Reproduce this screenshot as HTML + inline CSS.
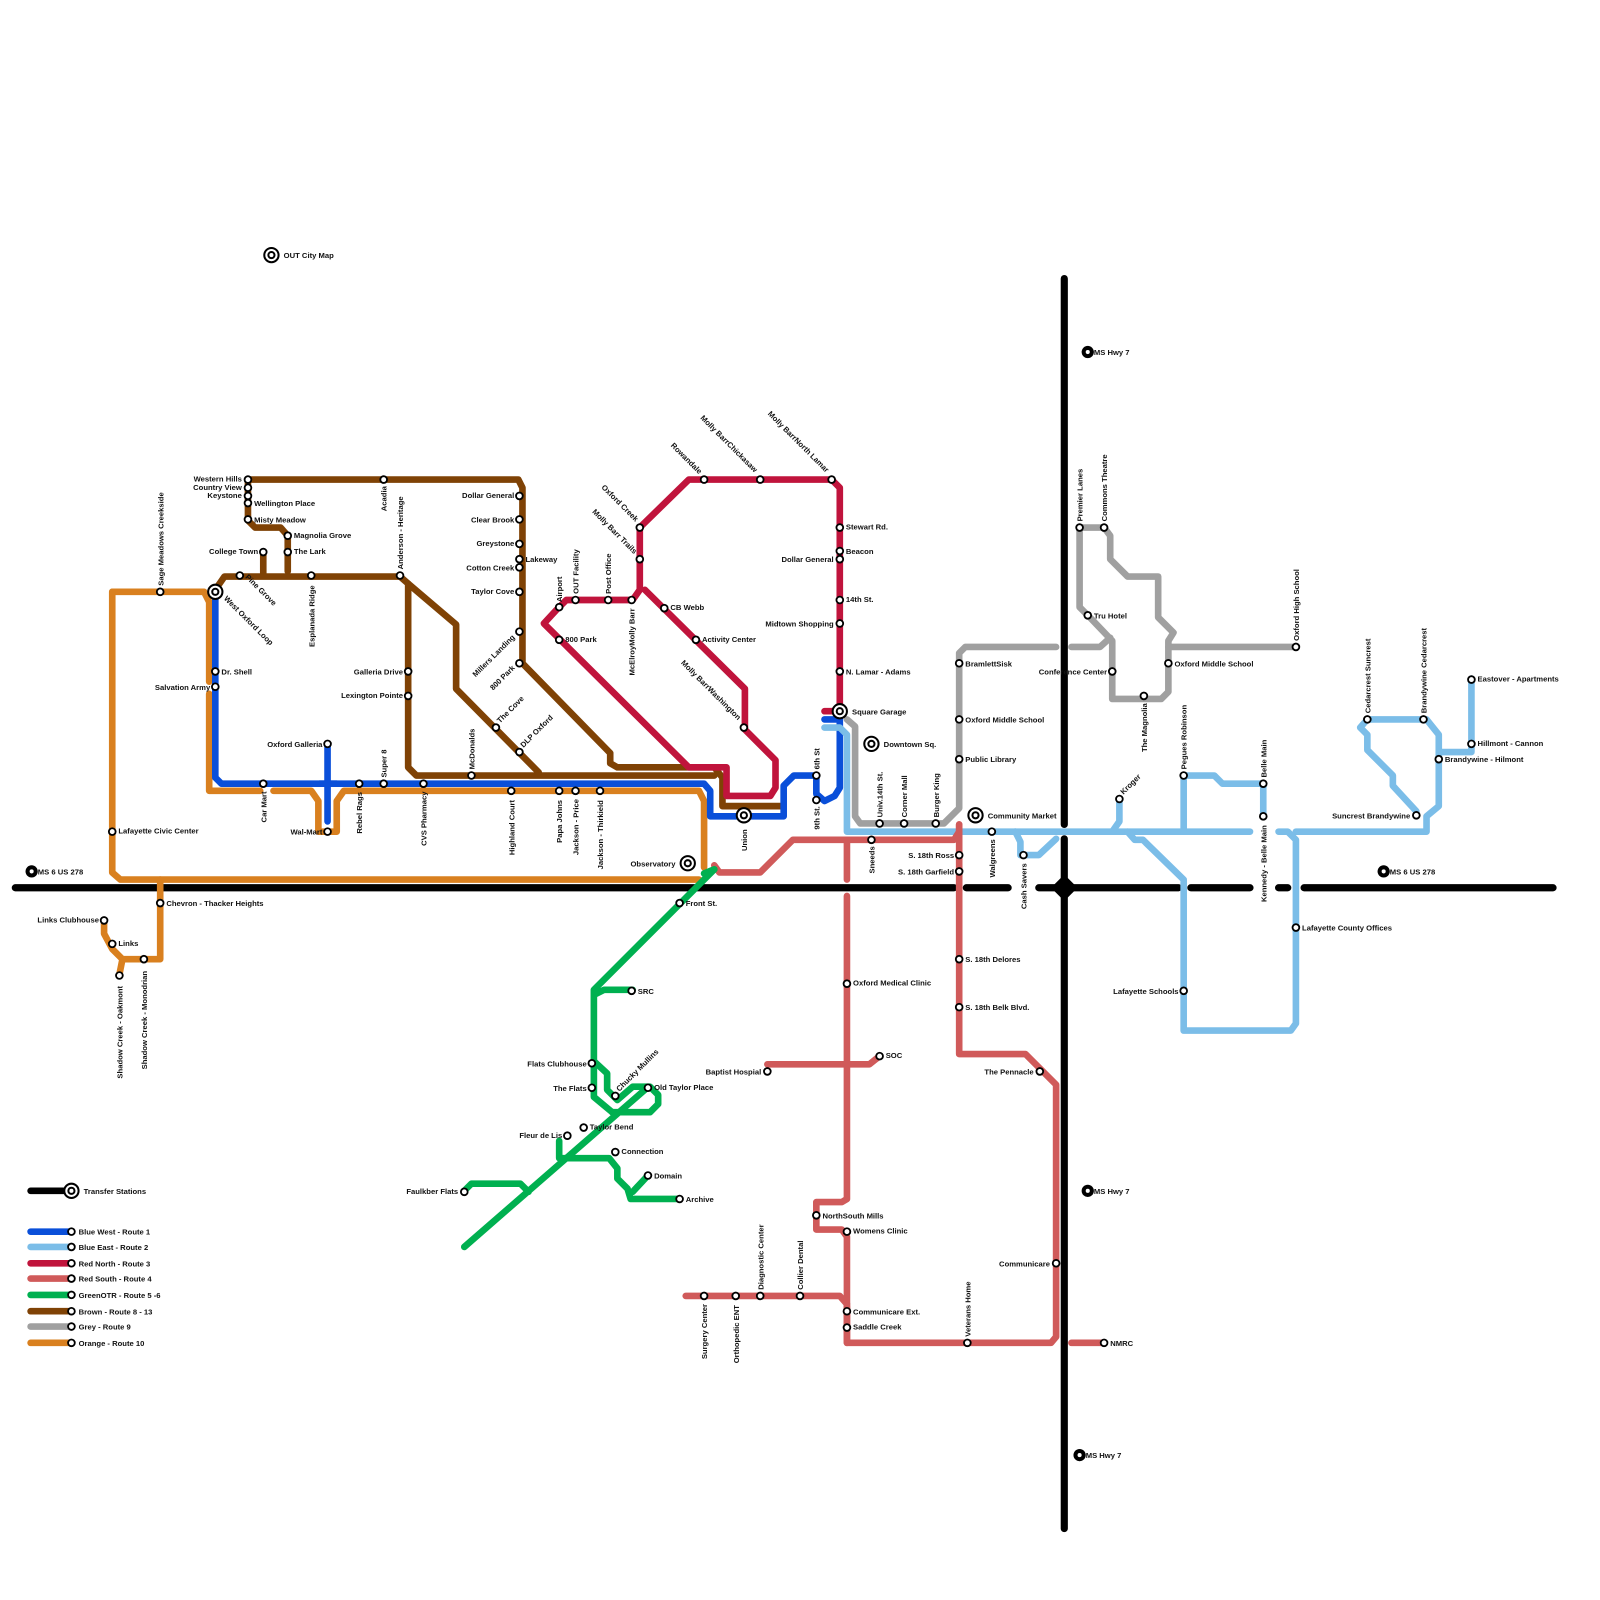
<!DOCTYPE html>
<html><head><meta charset="utf-8"><style>
html,body{margin:0;padding:0;background:#fff;}
svg{display:block;}
text{font-family:"Liberation Sans",Arial,sans-serif;font-size:7.5px;font-weight:bold;fill:#111;}
.l{fill:none;stroke-width:6.5;stroke-linejoin:round;stroke-linecap:round;}
.s{fill:#fff;stroke:#000;stroke-width:1.8;}
</style></head><body>
<svg width="1600" height="1600" viewBox="0 0 1568 1568" xmlns="http://www.w3.org/2000/svg">
<rect width="1568" height="1568" fill="#fff"/>
<g class="l" stroke="#000" style="stroke-width:7">
<path d="M15 870H935M947 870H988M1018 870H1155M1167 870H1225M1253 870H1262M1278 870H1522"/>
<path d="M1043 273V808M1043 822V1498"/>
</g>
<path d="M1043 857L1056 870L1043 883L1030 870Z" fill="#000"/>

<g class="l" stroke="#d9801f">
<path d="M110 580H200L205 590V668M205 680V775H255M268 775H305L312 785V815H330V785L337 775H685L690 785V850"/>
<path d="M110 580V855L118 862H685"/>
<path d="M157 862V940H142M102 902V915L110 930L120 940H142M120 940L117 955"/>
</g>
<g class="l" stroke="#7f4205">
<path d="M243 470H508L512 478V650L598 738V748L605 752H700L708 762V790H765"/>
<path d="M243 470V510L250 517H275L282 525V560M258 541V562"/>
<path d="M211 578L220 565H392L400 572V752L408 760H700"/>
<path d="M400 572L447 612V675L528 757"/>
</g>
<g class="l" stroke="#0a4fd9">
<path d="M211 580V762L217 768H690L696 775V800H768V770L778 760H800V778L808 785L818 780L823 772V705H808"/>
<path d="M321 729V805M313 768H330"/>
</g>
<g class="l" stroke="#c0143c">
<path d="M808 697H823V478L815 470H675L627 517V578"/>
<path d="M627 578L620 588H555L545 598L533 611L675 752H712V780H755L760 772V745L730 715V675L632 578"/>
</g>
<g class="l" stroke="#a0a0a0">
<path d="M830 705L838 712V800L843 807H925L940 792V640L946 634H1035M1050 634H1078L1088 625"/>
<path d="M1058 517H1082L1088 525V548L1105 565H1135V605L1150 620L1145 628V678L1138 685H1090V628L1068 605L1058 595Z"/>
<path d="M1145 634H1270"/>
</g>
<g class="l" stroke="#7bbde8">
<path d="M808 713H823L830 720V815H1225"/>
<path d="M995 815L1000 825V838H1018L1035 822"/>
<path d="M1097 783V805L1090 815M1160 760V815M1160 760H1190L1198 768H1238V800"/>
<path d="M1105 815L1112 823H1120L1160 862V1010H1265L1270 1003V823L1262 815H1253M1270 815H1398V800L1410 790V720L1398 705H1340L1333 713L1340 720V735L1365 760V770L1388 795"/>
<path d="M1410 737H1442V665"/>
</g>
<g class="l" stroke="#d05a5a">
<path d="M700 848L705 855H745L777 823H935L940 815V808"/>
<path d="M940 808V1033H1005L1035 1063V1310L1030 1316H830V1280M1050 1316H1082"/>
<path d="M830 823V862M830 878V1175L825 1178H800V1205H825L830 1212V1316"/>
<path d="M752 1043H852L862 1035M672 1270H823L830 1278"/>
</g>
<g class="l" stroke="#00b050">
<path d="M700 852L582 970V1075L600 1090M582 975L592 970H620"/>
<path d="M582 1040L595 1052V1068L605 1078M605 1078L620 1065H637L645 1073V1082L637 1090H600"/>
<path d="M632 1068L455 1222M455 1167L462 1160H510L518 1168"/>
<path d="M548 1118V1135H597L605 1145V1155L615 1165L618 1175H666M635 1152L620 1168"/>
<path d="M690 856L700 852"/>
</g>
<g class="l">
<path d="M30 1167H70" stroke="#000"/>
<path d="M30 1207H70" stroke="#0a4fd9"/><path d="M30 1222H70" stroke="#7bbde8"/>
<path d="M30 1238H70" stroke="#c0143c"/><path d="M30 1253H70" stroke="#d05a5a"/>
<path d="M30 1269H70" stroke="#00b050"/><path d="M30 1285H70" stroke="#7f4205"/>
<path d="M30 1300H70" stroke="#a0a0a0"/><path d="M30 1316H70" stroke="#d9801f"/>
</g>
<g class="s">
<circle cx="70" cy="1207" r="3.3"/><circle cx="70" cy="1222" r="3.3"/><circle cx="70" cy="1238" r="3.3"/><circle cx="70" cy="1253" r="3.3"/><circle cx="70" cy="1269" r="3.3"/><circle cx="70" cy="1285" r="3.3"/><circle cx="70" cy="1300" r="3.3"/><circle cx="70" cy="1316" r="3.3"/>
</g>
<text x="77" y="1210">Blue West - Route 1</text><text x="77" y="1225">Blue East - Route 2</text><text x="77" y="1241">Red North - Route 3</text><text x="77" y="1256">Red South - Route 4</text><text x="77" y="1272">GreenOTR - Route 5 -6</text><text x="77" y="1288">Brown - Route 8 - 13</text><text x="77" y="1303">Grey - Route 9</text><text x="77" y="1319">Orange - Route 10</text>

<g fill="#fff" stroke="#000">
<circle cx="70" cy="1167" r="7" stroke-width="2"/><circle cx="70" cy="1167" r="3" stroke-width="2"/>
<circle cx="266" cy="250" r="7" stroke-width="2"/><circle cx="266" cy="250" r="3" stroke-width="2"/>
<circle cx="211" cy="580" r="7" stroke-width="2"/><circle cx="211" cy="580" r="3" stroke-width="2"/>
<circle cx="674" cy="846" r="7" stroke-width="2"/><circle cx="674" cy="846" r="3" stroke-width="2"/>
<circle cx="729" cy="799" r="7" stroke-width="2"/><circle cx="729" cy="799" r="3" stroke-width="2"/>
<circle cx="823" cy="697" r="7" stroke-width="2"/><circle cx="823" cy="697" r="3" stroke-width="2"/>
<circle cx="854" cy="729" r="7" stroke-width="2"/><circle cx="854" cy="729" r="3" stroke-width="2"/>
<circle cx="956" cy="799" r="7" stroke-width="2"/><circle cx="956" cy="799" r="3" stroke-width="2"/>
</g>
<g fill="#000"><circle cx="31" cy="854" r="6"/><circle cx="1066" cy="345" r="6"/><circle cx="1066" cy="1167" r="6"/><circle cx="1058" cy="1426" r="6"/><circle cx="1356" cy="854" r="6"/></g>
<g fill="#fff"><circle cx="31" cy="854" r="2"/><circle cx="1066" cy="345" r="2"/><circle cx="1066" cy="1167" r="2"/><circle cx="1058" cy="1426" r="2"/><circle cx="1356" cy="854" r="2"/></g>
<text x="37" y="857">MS 6 US 278</text><text x="1072" y="348">MS Hwy 7</text><text x="1072" y="1170">MS Hwy 7</text><text x="1064" y="1429">MS Hwy 7</text><text x="1362" y="857">MS 6 US 278</text>
<text x="82" y="1170">Transfer Stations</text><text x="278" y="253">OUT City Map</text>
<text x="835" y="700">Square Garage</text><text x="866" y="732">Downtown Sq.</text><text x="968" y="802">Community Market</text>
<text x="662" y="849" text-anchor="end">Observatory</text>
<text x="219" y="587" transform="rotate(45 219 587)">West Oxford Loop</text>
<text transform="translate(732,834) rotate(-90)">Union</text>

<g class="s">
<circle cx="157" cy="580" r="3.3"/><circle cx="110" cy="815" r="3.3"/><circle cx="157" cy="885" r="3.3"/><circle cx="102" cy="902" r="3.3"/><circle cx="110" cy="925" r="3.3"/><circle cx="117" cy="956" r="3.3"/><circle cx="141" cy="940" r="3.3"/>
<circle cx="211" cy="658" r="3.3"/><circle cx="211" cy="673" r="3.3"/><circle cx="258" cy="768" r="3.3"/><circle cx="321" cy="729" r="3.3"/><circle cx="321" cy="815" r="3.3"/><circle cx="352" cy="768" r="3.3"/><circle cx="376" cy="768" r="3.3"/><circle cx="415" cy="768" r="3.3"/><circle cx="462" cy="760" r="3.3"/><circle cx="501" cy="775" r="3.3"/><circle cx="548" cy="775" r="3.3"/><circle cx="564" cy="775" r="3.3"/><circle cx="588" cy="775" r="3.3"/>
<circle cx="243" cy="470" r="3.3"/><circle cx="243" cy="478" r="3.3"/><circle cx="243" cy="486" r="3.3"/><circle cx="243" cy="493" r="3.3"/><circle cx="243" cy="509" r="3.3"/><circle cx="282" cy="525" r="3.3"/><circle cx="282" cy="541" r="3.3"/><circle cx="258" cy="541" r="3.3"/><circle cx="235" cy="564" r="3.3"/><circle cx="305" cy="564" r="3.3"/><circle cx="376" cy="470" r="3.3"/><circle cx="392" cy="564" r="3.3"/><circle cx="400" cy="658" r="3.3"/><circle cx="400" cy="682" r="3.3"/>
<circle cx="509" cy="486" r="3.3"/><circle cx="509" cy="509" r="3.3"/><circle cx="509" cy="533" r="3.3"/><circle cx="509" cy="548" r="3.3"/><circle cx="509" cy="556" r="3.3"/><circle cx="509" cy="580" r="3.3"/><circle cx="509" cy="619" r="3.3"/><circle cx="509" cy="650" r="3.3"/><circle cx="486" cy="713" r="3.3"/><circle cx="509" cy="737" r="3.3"/>
<circle cx="548" cy="595" r="3.3"/><circle cx="564" cy="588" r="3.3"/><circle cx="596" cy="588" r="3.3"/><circle cx="619" cy="588" r="3.3"/><circle cx="548" cy="627" r="3.3"/><circle cx="651" cy="596" r="3.3"/><circle cx="682" cy="627" r="3.3"/><circle cx="729" cy="713" r="3.3"/>
<circle cx="627" cy="517" r="3.3"/><circle cx="627" cy="548" r="3.3"/><circle cx="690" cy="470" r="3.3"/><circle cx="745" cy="470" r="3.3"/><circle cx="815" cy="470" r="3.3"/>
<circle cx="823" cy="517" r="3.3"/><circle cx="823" cy="540" r="3.3"/><circle cx="823" cy="548" r="3.3"/><circle cx="823" cy="588" r="3.3"/><circle cx="823" cy="611" r="3.3"/><circle cx="823" cy="658" r="3.3"/>
<circle cx="800" cy="760" r="3.3"/><circle cx="800" cy="784" r="3.3"/>
<circle cx="862" cy="807" r="3.3"/><circle cx="886" cy="807" r="3.3"/><circle cx="917" cy="807" r="3.3"/><circle cx="854" cy="823" r="3.3"/>
<circle cx="940" cy="650" r="3.3"/><circle cx="940" cy="705" r="3.3"/><circle cx="940" cy="744" r="3.3"/><circle cx="940" cy="838" r="3.3"/><circle cx="940" cy="854" r="3.3"/><circle cx="940" cy="940" r="3.3"/><circle cx="940" cy="987" r="3.3"/>
<circle cx="972" cy="815" r="3.3"/><circle cx="1003" cy="838" r="3.3"/><circle cx="1097" cy="783" r="3.3"/><circle cx="1160" cy="760" r="3.3"/><circle cx="1238" cy="768" r="3.3"/><circle cx="1238" cy="800" r="3.3"/><circle cx="1160" cy="971" r="3.3"/><circle cx="1270" cy="909" r="3.3"/>
<circle cx="1058" cy="517" r="3.3"/><circle cx="1082" cy="517" r="3.3"/><circle cx="1066" cy="603" r="3.3"/><circle cx="1090" cy="658" r="3.3"/><circle cx="1121" cy="682" r="3.3"/><circle cx="1145" cy="650" r="3.3"/><circle cx="1270" cy="634" r="3.3"/>
<circle cx="1340" cy="705" r="3.3"/><circle cx="1395" cy="705" r="3.3"/><circle cx="1442" cy="666" r="3.3"/><circle cx="1442" cy="729" r="3.3"/><circle cx="1410" cy="744" r="3.3"/><circle cx="1388" cy="799" r="3.3"/>
<circle cx="666" cy="885" r="3.3"/><circle cx="619" cy="971" r="3.3"/><circle cx="580" cy="1042" r="3.3"/><circle cx="580" cy="1066" r="3.3"/><circle cx="603" cy="1074" r="3.3"/><circle cx="635" cy="1066" r="3.3"/><circle cx="572" cy="1105" r="3.3"/><circle cx="556" cy="1113" r="3.3"/><circle cx="603" cy="1129" r="3.3"/><circle cx="635" cy="1152" r="3.3"/><circle cx="666" cy="1175" r="3.3"/><circle cx="455" cy="1168" r="3.3"/>
<circle cx="830" cy="964" r="3.3"/><circle cx="862" cy="1035" r="3.3"/><circle cx="752" cy="1050" r="3.3"/><circle cx="800" cy="1191" r="3.3"/><circle cx="830" cy="1207" r="3.3"/><circle cx="690" cy="1270" r="3.3"/><circle cx="721" cy="1270" r="3.3"/><circle cx="745" cy="1270" r="3.3"/><circle cx="784" cy="1270" r="3.3"/><circle cx="830" cy="1285" r="3.3"/><circle cx="830" cy="1301" r="3.3"/><circle cx="948" cy="1316" r="3.3"/><circle cx="1082" cy="1316" r="3.3"/><circle cx="1035" cy="1238" r="3.3"/><circle cx="1019" cy="1050" r="3.3"/>
</g>

<text x="116" y="817">Lafayette Civic Center</text><text x="163" y="888">Chevron - Thacker Heights</text><text x="97" y="904" text-anchor="end">Links Clubhouse</text><text x="116" y="927">Links</text>
<text x="217" y="661">Dr. Shell</text><text x="206" y="676" text-anchor="end">Salvation Army</text><text x="316" y="732" text-anchor="end">Oxford Galleria</text><text x="316" y="818" text-anchor="end">Wal-Mart</text>
<text x="237" y="472" text-anchor="end">Western Hills</text><text x="237" y="480" text-anchor="end">Country View</text><text x="237" y="488" text-anchor="end">Keystone</text><text x="249" y="496">Wellington Place</text><text x="249" y="512">Misty Meadow</text><text x="288" y="527">Magnolia Grove</text><text x="288" y="543">The Lark</text><text x="253" y="543" text-anchor="end">College Town</text>
<text x="395" y="661" text-anchor="end">Galleria Drive</text><text x="395" y="684" text-anchor="end">Lexington Pointe</text>
<text x="504" y="488" text-anchor="end">Dollar General</text><text x="504" y="512" text-anchor="end">Clear Brook</text><text x="504" y="535" text-anchor="end">Greystone</text><text x="515" y="551">Lakeway</text><text x="504" y="559" text-anchor="end">Cotton Creek</text><text x="504" y="582" text-anchor="end">Taylor Cove</text>
<text x="554" y="629">800 Park</text><text x="657" y="598">CB Webb</text><text x="688" y="629">Activity Center</text>
<text x="829" y="519">Stewart Rd.</text><text x="829" y="543">Beacon</text><text x="817" y="551" text-anchor="end">Dollar General</text><text x="829" y="590">14th St.</text><text x="817" y="614" text-anchor="end">Midtown Shopping</text><text x="829" y="661">N. Lamar - Adams</text>
<text x="946" y="653">BramlettSisk</text><text x="946" y="708">Oxford Middle School</text><text x="946" y="747">Public Library</text><text x="935" y="841" text-anchor="end">S. 18th Ross</text><text x="935" y="857" text-anchor="end">S. 18th Garfield</text><text x="946" y="943">S. 18th Delores</text><text x="946" y="990">S. 18th Belk Blvd.</text>
<text x="1072" y="606">Tru Hotel</text><text x="1085" y="661" text-anchor="end">Conference Center</text><text x="1151" y="653">Oxford Middle School</text>
<text x="1276" y="912">Lafayette County Offices</text><text x="1155" y="974" text-anchor="end">Lafayette Schools</text>
<text x="1448" y="668">Eastover - Apartments</text><text x="1448" y="731">Hillmont - Cannon</text><text x="1416" y="747">Brandywine -  Hilmont</text><text x="1382" y="802" text-anchor="end">Suncrest Brandywine</text>
<text x="672" y="888">Front St.</text><text x="625" y="974">SRC</text><text x="575" y="1045" text-anchor="end">Flats Clubhouse</text><text x="575" y="1069" text-anchor="end">The Flats</text><text x="641" y="1068">Old Taylor Place</text><text x="578" y="1107">Taylor Bend</text><text x="551" y="1115" text-anchor="end">Fleur de Lis</text><text x="609" y="1131">Connection</text><text x="641" y="1155">Domain</text><text x="672" y="1178">Archive</text><text x="449" y="1170" text-anchor="end">Faulkber Flats</text>
<text x="836" y="966">Oxford Medical Clinic</text><text x="868" y="1037">SOC</text><text x="746" y="1053" text-anchor="end">Baptist Hospial</text><text x="806" y="1194">NorthSouth Mills</text><text x="836" y="1209">Womens Clinic</text><text x="836" y="1288">Communicare Ext.</text><text x="836" y="1303">Saddle Creek</text><text x="1088" y="1319">NMRC</text><text x="1029" y="1241" text-anchor="end">Communicare</text><text x="1013" y="1053" text-anchor="end">The Pennacle</text>

<g>
<text transform="translate(160,574) rotate(-90)">Sage Meadows  Creekside</text>
<text transform="translate(308,634) rotate(-90)">Esplanada Ridge</text>
<text transform="translate(379,501) rotate(-90)">Acadia</text>
<text transform="translate(395,558) rotate(-90)">Anderson - Heritage</text>
<text transform="translate(465,754) rotate(-90)">McDonalds</text>
<text transform="translate(379,762) rotate(-90)">Super 8</text>
<text transform="translate(551,590) rotate(-90)">Airport</text>
<text transform="translate(567,582) rotate(-90)">OUT Facility</text>
<text transform="translate(599,582) rotate(-90)">Post Office</text>
<text transform="translate(803,754) rotate(-90)">6th St</text>
<text transform="translate(865,801) rotate(-90)">Univ.14th St.</text>
<text transform="translate(889,801) rotate(-90)">Corner Mall</text>
<text transform="translate(920,801) rotate(-90)">Burger King</text>
<text transform="translate(1061,511) rotate(-90)">Premier Lanes</text>
<text transform="translate(1085,511) rotate(-90)">Commons Theatre</text>
<text transform="translate(1163,754) rotate(-90)">Pegues  Robinson</text>
<text transform="translate(1241,762) rotate(-90)">Belle Main</text>
<text transform="translate(1273,628) rotate(-90)">Oxford High School</text>
<text transform="translate(1343,699) rotate(-90)">Cedarcrest  Suncrest</text>
<text transform="translate(1398,699) rotate(-90)">Brandywine  Cedarcrest</text>
<text transform="translate(748,1264) rotate(-90)">Diagnostic Center</text>
<text transform="translate(787,1264) rotate(-90)">Collier Dental</text>
<text transform="translate(951,1310) rotate(-90)">Veterans Home</text>
<text transform="translate(261,806) rotate(-90)">Car Mart</text>
<text transform="translate(355,817) rotate(-90)">Rebel Rags</text>
<text transform="translate(418,829) rotate(-90)">CVS Pharmacy</text>
<text transform="translate(504,838) rotate(-90)">Highland Court</text>
<text transform="translate(551,826) rotate(-90)">Papa Johns</text>
<text transform="translate(567,838) rotate(-90)">Jackson - Price</text>
<text transform="translate(591,852) rotate(-90)">Jackson - Thirkield</text>
<text transform="translate(622,662) rotate(-90)">McElroyMolly Barr</text>
<text transform="translate(803,813) rotate(-90)">9th St.</text>
<text transform="translate(857,856) rotate(-90)">Sneeds</text>
<text transform="translate(975,860) rotate(-90)">Walgreens</text>
<text transform="translate(1006,891) rotate(-90)">Cash Savers</text>
<text transform="translate(1124,737) rotate(-90)">The Magnolia</text>
<text transform="translate(1241,884) rotate(-90)">Kennedy - Belle Main</text>
<text transform="translate(120,1057) rotate(-90)">Shadow Creek - Oakmont</text>
<text transform="translate(144,1048) rotate(-90)">Shadow Creek - Monodrian</text>
<text transform="translate(693,1332) rotate(-90)">Surgery Center</text>
<text transform="translate(724,1336) rotate(-90)">Orthopedic ENT</text>
<text transform="translate(240,566) rotate(45)">Pine Grove</text>
<text transform="translate(505,625) rotate(-45)" text-anchor="end">Millers Landing</text>
<text transform="translate(505,655) rotate(-45)" text-anchor="end">800 Park</text>
<text transform="translate(490,709) rotate(-45)">The Cove</text>
<text transform="translate(513,733) rotate(-45)">DLP Oxford</text>
<text transform="translate(589,478) rotate(45)">Oxford Creek</text>
<text transform="translate(580,502) rotate(45)">Molly Barr Trails</text>
<text transform="translate(657,437) rotate(45)">Rowandale</text>
<text transform="translate(686,410) rotate(45)">Molly BarrChickasaw</text>
<text transform="translate(752,406) rotate(45)">Molly BarrNorth Lamar</text>
<text transform="translate(667,650) rotate(45)">Molly BarrWashington</text>
<text transform="translate(607,1070) rotate(-45)">Chucky Mullins</text>
<text transform="translate(1101,779) rotate(-45)">Kroger</text>
</g>
</svg>
</body></html>
